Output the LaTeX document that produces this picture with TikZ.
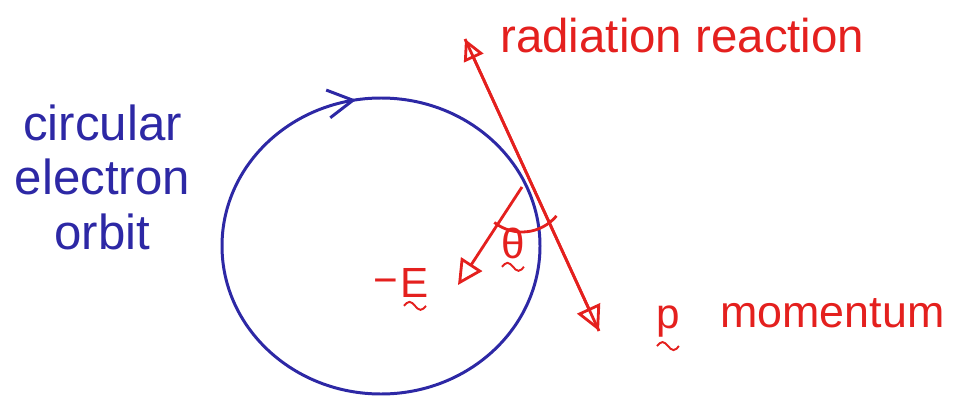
\documentclass[tikz,border=0pt]{standalone}
\usepackage{fontspec}
\setmainfont{Liberation Sans}
\usepackage{tikz}
\usetikzlibrary{arrows.meta,decorations.markings}
\definecolor{orbitBlue}{RGB}{45,40,165}
\definecolor{inkRed}{RGB}{228,32,30}

\begin{document}
\begin{tikzpicture}[
  orbitline/.style={draw=orbitBlue, line width=1.7pt},
  redline/.style={draw=inkRed, line width=1.6pt},
  squig/.style={draw=inkRed, line width=1.1pt},
  opentip/.style={-{Triangle[open, length=#1, width=#1, line width=1.6pt]}},
  lbl/.style={font=\fontsize{#1}{31}\selectfont, inner sep=0pt},
  sym/.style={font=\fontsize{24}{26}\selectfont, text=inkRed, inner sep=0pt}
]
  \useasboundingbox (0,0) rectangle (19.14,7.96);
  % orbit
  \coordinate (ctr) at (7.62,3.04);
  \draw[orbitline, postaction={decorate}, decoration={markings,
      mark=at position 0.276 with {\arrowreversed[orbitBlue]{Straight Barb[length=0.5cm, width=0.56cm, line width=1.7pt]}}}]
    (ctr) ellipse [x radius=3.18cm, y radius=2.96cm];
  \node[lbl=28, text=orbitBlue, align=center] (orbit) at (2.05,4.42)
    {circular\\electron\\orbit};
  % radiation reaction / momentum line
  \coordinate (rtop) at (9.30,7.18);
  \coordinate (rbot) at (11.98,1.34);
  \draw[redline, opentip=0.42cm] (rbot) -- (rtop);
  \draw[redline, opentip=0.5cm] (rtop) -- (rbot);
  \node[lbl=27, text=inkRed, anchor=base west] (reaction) at (10.0,6.9) {radiation reaction};
  \node[lbl=25.5, text=inkRed, anchor=base west] (momentum) at (14.4,1.42) {momentum};
  \node[sym] (p) at (13.36,1.52) {p};
  % field and angle
  \coordinate (estart) at (10.44,4.22);
  \coordinate (eend) at (9.16,2.26);
  \draw[redline, opentip=0.5cm] (estart) -- (eend);
  \draw[redline] (estart) ++(-128:0.9) arc[start angle=-128, end angle=-40, radius=0.9];
  \node[sym] (theta) at (10.26,3.1) {θ};
  \node[sym] (evec) at (8.3,2.3) {E};
  \node[sym] (minus) at (7.72,2.22) {−};
  % vector squiggles
  \foreach \n in {p,theta,evec}
    \draw[squig] ([yshift=-0.16cm]\n.south) ++(-0.22,0) sin ++(0.11,0.08)
      cos ++(0.11,-0.08) sin ++(0.11,-0.08) cos ++(0.11,0.08);
\end{tikzpicture}
\end{document}
